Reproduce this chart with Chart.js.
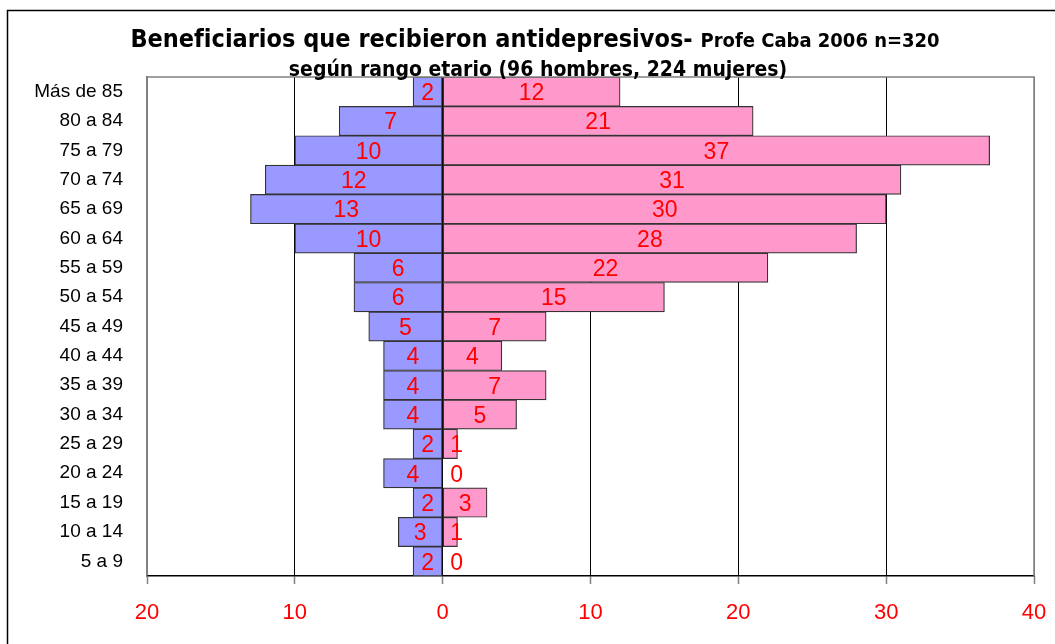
<!DOCTYPE html>
<html lang="es">
<head>
    <meta charset="UTF-8">
    <title>Antidepresivos por rango etario</title>
    <script src="https://cdn.jsdelivr.net/npm/chart.js"></script>
    <style>
        html, body { margin: 0; padding: 0; background: #fff; }
        #wrap { width: 1055px; height: 644px; }
    </style>
</head>
<body>
<div id="wrap"><canvas id="myChart" width="1055" height="644"></canvas></div>
<script>
    // rangos etarios, de arriba hacia abajo
    const ageGroups = ['Más de 85', '80 a 84', '75 a 79', '70 a 74', '65 a 69', '60 a 64', '55 a 59',
        '50 a 54', '45 a 49', '40 a 44', '35 a 39', '30 a 34', '25 a 29', '20 a 24', '15 a 19', '10 a 14', '5 a 9'];
    const hombres = [2, 7, 10, 12, 13, 10, 6, 6, 5, 4, 4, 4, 2, 4, 2, 3, 2];
    const mujeres = [12, 21, 37, 31, 30, 28, 22, 15, 7, 4, 7, 5, 1, 0, 3, 1, 0];
    const xTicks = [-20, -10, 0, 10, 20, 30, 40];

    const titleMain = 'Beneficiarios que recibieron antidepresivos- ';
    const titleSmall = 'Profe Caba 2006 n=320';
    const subtitle = 'según rango etario (96 hombres, 224 mujeres)';

    const narrow = '"Liberation Sans Narrow", "DejaVu Sans Condensed", "Liberation Sans", sans-serif';
    const sans = '"Liberation Sans", Arial, sans-serif';

    // marco exterior, titulo y borde del area de trazado
    const decoPlugin = {
        id: 'deco',
        beforeDraw(chart) {
            const ctx = chart.ctx;
            ctx.save();
            ctx.strokeStyle = '#000';
            ctx.lineWidth = 1.5;
            ctx.beginPath();
            ctx.moveTo(7.5, 644);
            ctx.lineTo(7.5, 10.5);
            ctx.lineTo(1055, 10.5);
            ctx.stroke();
            ctx.restore();
        },
        afterDraw(chart) {
            const ctx = chart.ctx;
            const a = chart.chartArea;
            ctx.save();
            ctx.strokeStyle = '#808080';
            ctx.lineWidth = 1.5;
            ctx.beginPath();
            ctx.moveTo(a.left, a.top);
            ctx.lineTo(a.right, a.top);
            ctx.lineTo(a.right, a.bottom);
            ctx.stroke();

            ctx.fillStyle = '#000';
            ctx.textBaseline = 'alphabetic';
            ctx.font = 'bold 25px ' + narrow;
            const w1 = ctx.measureText(titleMain).width;
            ctx.font = 'bold 20px ' + narrow;
            const w2 = ctx.measureText(titleSmall).width;
            let x = 535 - (w1 + w2) / 2;
            ctx.textAlign = 'left';
            ctx.font = 'bold 25px ' + narrow;
            ctx.fillText(titleMain, x, 47);
            ctx.font = 'bold 20px ' + narrow;
            ctx.fillText(titleSmall, x + w1, 47);
            ctx.font = 'bold 21px ' + narrow;
            ctx.textAlign = 'center';
            ctx.fillText(subtitle, 538, 76);
            ctx.restore();
        }
    };

    // etiquetas de valores en rojo
    const labelPlugin = {
        id: 'valueLabels',
        afterDatasetsDraw(chart) {
            const ctx = chart.ctx;
            const xs = chart.scales.x;
            const zero = xs.getPixelForValue(0);
            ctx.save();
            ctx.fillStyle = '#ff0000';
            ctx.font = '23px ' + sans;
            ctx.textAlign = 'center';
            ctx.textBaseline = 'middle';
            chart.data.datasets.forEach((ds, i) => {
                const meta = chart.getDatasetMeta(i);
                meta.data.forEach((bar, j) => {
                    const v = i === 0 ? hombres[j] : mujeres[j];
                    let cx = (bar.x + bar.base) / 2;
                    if (i === 1) cx = Math.max(cx, zero + 14);
                    ctx.fillText(String(v), cx, bar.y + 2);
                });
            });
            ctx.restore();
        }
    };

    const ctx = document.getElementById('myChart').getContext('2d');
    new Chart(ctx, {
        type: 'bar',
        data: {
            labels: ageGroups,
            datasets: [
                {
                    label: 'Hombres',
                    data: hombres.map(v => -v),
                    backgroundColor: '#9999ff',
                    borderColor: '#333',
                    borderWidth: 1.2,
                    borderSkipped: false,
                    barPercentage: 1,
                    categoryPercentage: 1
                },
                {
                    label: 'Mujeres',
                    data: mujeres,
                    backgroundColor: '#ff99cc',
                    borderColor: '#333',
                    borderWidth: 1.2,
                    borderSkipped: false,
                    barPercentage: 1,
                    categoryPercentage: 1
                }
            ]
        },
        options: {
            indexAxis: 'y',
            responsive: false,
            animation: false,
            layout: { padding: { top: 77, right: 21, left: 0, bottom: 0 } },
            scales: {
                x: {
                    stacked: true,
                    min: -20,
                    max: 40,
                    afterBuildTicks: axis => { axis.ticks = xTicks.map(v => ({ value: v })); },
                    afterFit: axis => {
                        axis.height = 68;
                        axis.paddingLeft = 0;
                        axis.paddingRight = 0;
                    },
                    ticks: {
                        color: '#ff0000',
                        font: { family: sans, size: 22 },
                        padding: 16,
                        maxRotation: 0,
                        callback: v => Math.abs(v)
                    },
                    grid: {
                        color: c => (c.tick && (c.tick.value === -20 || c.tick.value === 40)) ? '#808080' : '#000',
                        lineWidth: 1,
                        tickColor: '#808080',
                        tickLength: 8,
                        tickWidth: 1.5
                    },
                    border: { color: '#000', width: 1.5 }
                },
                y: {
                    stacked: true,
                    afterFit: axis => { axis.width = 147; },
                    ticks: {
                        color: '#000',
                        font: { family: sans, size: 19 },
                        padding: 16
                    },
                    grid: { display: false },
                    border: { color: '#808080', width: 1.5 }
                }
            },
            plugins: {
                legend: { display: false },
                tooltip: { enabled: false }
            }
        },
        plugins: [decoPlugin, labelPlugin]
    });
</script>
</body>
</html>
